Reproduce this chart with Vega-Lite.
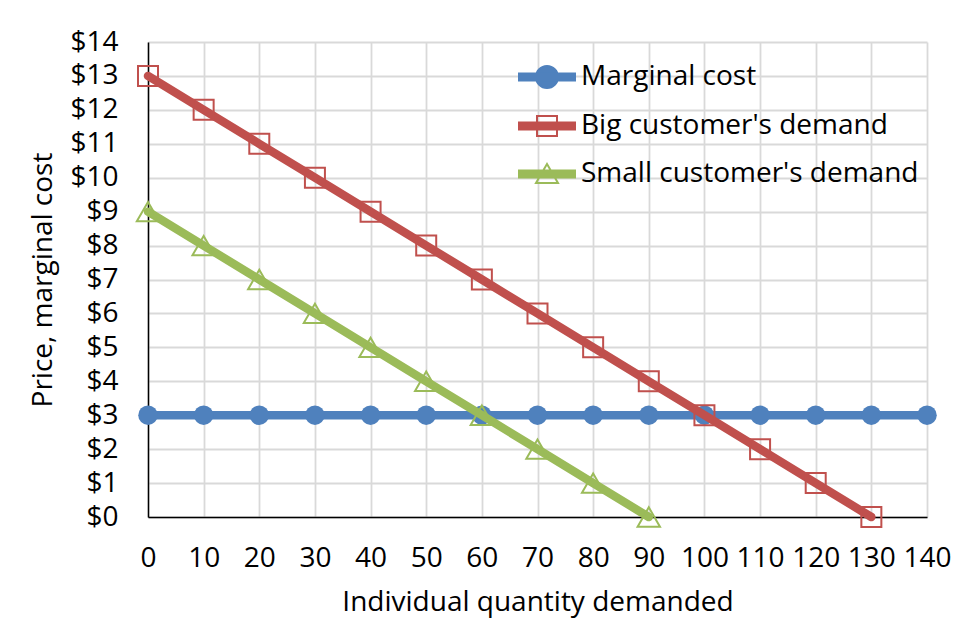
{
  "$schema": "https://vega.github.io/schema/vega-lite/v6.json",
  "width": 779,
  "height": 475,
  "autosize": "none",
  "padding": {"left": 148, "top": 42, "right": 29, "bottom": 101},
  "background": "white",
  "config": {
    "view": {"stroke": null},
    "font": "Open Sans",
    "axis": {
      "labelFont": "Open Sans",
      "titleFont": "Open Sans",
      "labelFontSize": 28,
      "titleFontSize": 28,
      "titleFontWeight": "normal",
      "labelColor": "black",
      "titleColor": "black",
      "domainColor": "black",
      "domainWidth": 1.5,
      "gridColor": "#d9d9d9",
      "gridWidth": 1.8,
      "ticks": false
    }
  },
  "data": {
    "values": [
      {"series": "Marginal cost", "q": 0, "p": 3},
      {"series": "Marginal cost", "q": 10, "p": 3},
      {"series": "Marginal cost", "q": 20, "p": 3},
      {"series": "Marginal cost", "q": 30, "p": 3},
      {"series": "Marginal cost", "q": 40, "p": 3},
      {"series": "Marginal cost", "q": 50, "p": 3},
      {"series": "Marginal cost", "q": 60, "p": 3},
      {"series": "Marginal cost", "q": 70, "p": 3},
      {"series": "Marginal cost", "q": 80, "p": 3},
      {"series": "Marginal cost", "q": 90, "p": 3},
      {"series": "Marginal cost", "q": 100, "p": 3},
      {"series": "Marginal cost", "q": 110, "p": 3},
      {"series": "Marginal cost", "q": 120, "p": 3},
      {"series": "Marginal cost", "q": 130, "p": 3},
      {"series": "Marginal cost", "q": 140, "p": 3},
      {"series": "Big customer's demand", "q": 0, "p": 13},
      {"series": "Big customer's demand", "q": 10, "p": 12},
      {"series": "Big customer's demand", "q": 20, "p": 11},
      {"series": "Big customer's demand", "q": 30, "p": 10},
      {"series": "Big customer's demand", "q": 40, "p": 9},
      {"series": "Big customer's demand", "q": 50, "p": 8},
      {"series": "Big customer's demand", "q": 60, "p": 7},
      {"series": "Big customer's demand", "q": 70, "p": 6},
      {"series": "Big customer's demand", "q": 80, "p": 5},
      {"series": "Big customer's demand", "q": 90, "p": 4},
      {"series": "Big customer's demand", "q": 100, "p": 3},
      {"series": "Big customer's demand", "q": 110, "p": 2},
      {"series": "Big customer's demand", "q": 120, "p": 1},
      {"series": "Big customer's demand", "q": 130, "p": 0},
      {"series": "Small customer's demand", "q": 0, "p": 9},
      {"series": "Small customer's demand", "q": 10, "p": 8},
      {"series": "Small customer's demand", "q": 20, "p": 7},
      {"series": "Small customer's demand", "q": 30, "p": 6},
      {"series": "Small customer's demand", "q": 40, "p": 5},
      {"series": "Small customer's demand", "q": 50, "p": 4},
      {"series": "Small customer's demand", "q": 60, "p": 3},
      {"series": "Small customer's demand", "q": 70, "p": 2},
      {"series": "Small customer's demand", "q": 80, "p": 1},
      {"series": "Small customer's demand", "q": 90, "p": 0}
    ]
  },
  "encoding": {
    "x": {
      "field": "q",
      "type": "quantitative",
      "scale": {"domain": [0, 140], "nice": false, "zero": false},
      "axis": {
        "values": [0, 10, 20, 30, 40, 50, 60, 70, 80, 90, 100, 110, 120, 130, 140],
        "labelPadding": 27,
        "labelFlush": false,
        "title": "Individual quantity demanded",
        "titlePadding": 16
      }
    },
    "y": {
      "field": "p",
      "type": "quantitative",
      "scale": {"domain": [0, 14], "nice": false},
      "axis": {
        "values": [0, 1, 2, 3, 4, 5, 6, 7, 8, 9, 10, 11, 12, 13, 14],
        "format": "$d",
        "labelPadding": 30,
        "labelFlush": false,
        "title": "Price, marginal cost",
        "titlePadding": 12
      }
    },
    "color": {
      "field": "series",
      "type": "nominal",
      "scale": {
        "domain": ["Marginal cost", "Big customer's demand", "Small customer's demand"],
        "range": ["#4f81bd", "#c0504d", "#9bbb59"]
      },
      "legend": {
        "orient": "none",
        "legendX": 385,
        "legendY": 21,
        "title": null,
        "padding": 0,
        "symbolSize": 400,
        "labelFont": "Open Sans",
        "labelFontSize": 28,
        "labelColor": "black",
        "labelLimit": 600,
        "labelOffset": 20,
        "rowPadding": 20,
        "encode": {
          "symbols": {
            "update": {
              "shape": {"signal": "indexof(datum.value, 'Marginal') === 0 ? 'M-2.9,-0.35H2.9M-2.9,-0.175H2.9M-2.9,0H2.9M-2.9,0.175H2.9M-2.9,0.35H2.9M1.1,0A1.1,1.1 0 1,1 -1.1,0A1.1,1.1 0 1,1 1.1,0Z' : indexof(datum.value, 'Big') === 0 ? 'M-2.9,-0.35H2.9M-2.9,-0.175H2.9M-2.9,0H2.9M-2.9,0.175H2.9M-2.9,0.35H2.9M-1,-1H1V1H-1Z' : 'M-2.9,-0.35H2.9M-2.9,-0.175H2.9M-2.9,0H2.9M-2.9,0.175H2.9M-2.9,0.35H2.9M0,-1L1.1,0.9H-1.1Z'"},
              "fill": {"signal": "indexof(datum.value, 'Marginal') === 0 ? '#4f81bd' : 'transparent'"},
              "fillOpacity": {"signal": "indexof(datum.value, 'Marginal') === 0 ? 1 : 0"},
              "stroke": {"signal": "scale('color', datum.value)"},
              "strokeWidth": {"value": 2},
              "opacity": {"value": 1}
            }
          }
        }
      }
    }
  },
  "layer": [
    {
      "transform": [{"filter": {"field": "series", "equal": "Marginal cost"}}],
      "mark": {"type": "line", "strokeWidth": 8.5, "strokeCap": "round"}
    },
    {
      "transform": [{"filter": {"field": "series", "equal": "Marginal cost"}}],
      "mark": {"type": "point", "shape": "circle", "filled": true, "size": 380, "opacity": 1}
    },
    {
      "transform": [{"filter": {"field": "series", "equal": "Big customer's demand"}}],
      "mark": {"type": "line", "strokeWidth": 8.5, "strokeCap": "round"}
    },
    {
      "transform": [{"filter": {"field": "series", "equal": "Big customer's demand"}}],
      "mark": {"type": "point", "shape": "square", "filled": false, "size": 400, "strokeWidth": 2, "opacity": 1}
    },
    {
      "transform": [{"filter": {"field": "series", "equal": "Small customer's demand"}}],
      "mark": {"type": "line", "strokeWidth": 8.5, "strokeCap": "round"}
    },
    {
      "transform": [{"filter": {"field": "series", "equal": "Small customer's demand"}}],
      "mark": {"type": "point", "shape": "triangle-up", "filled": false, "size": 500, "strokeWidth": 2, "opacity": 1}
    }
  ]
}
